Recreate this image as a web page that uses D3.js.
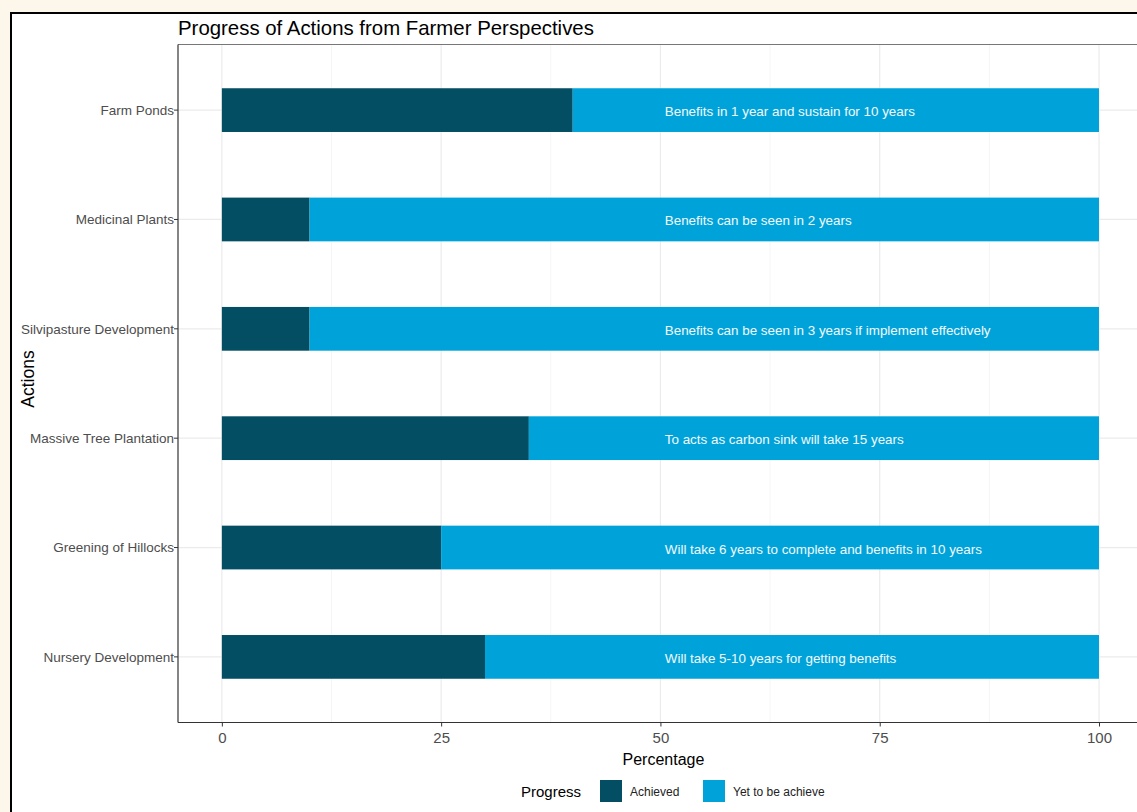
<!DOCTYPE html>
<html>
<head>
<meta charset="utf-8">
<script src="https://cdn.jsdelivr.net/npm/d3@7"></script>
<style>
  html, body { margin: 0; padding: 0; background: #fdf6ea; }
  svg { display: block; font-family: "Liberation Sans", Arial, sans-serif; }
</style>
</head>
<body>
<div class="chart"></div>
<script>
// data
var categories = ["Farm Ponds", "Medicinal Plants", "Silvipasture Development",
                  "Massive Tree Plantation", "Greening of Hillocks", "Nursery Development"];
var achieved = [40, 10, 10, 35, 25, 30];
var yetToAchieve = [60, 90, 90, 65, 75, 70];
var notes = ["Benefits in 1 year and sustain for 10 years",
             "Benefits can be seen in 2 years",
             "Benefits can be seen in 3 years if implement effectively",
             "To acts as carbon sink will take 15 years",
             "Will take 6 years to complete and benefits in 10 years",
             "Will take 5-10 years for getting benefits"];
var noteX = 50.5;
var xTicks = [0, 25, 50, 75, 100];
var xMinor = [12.5, 37.5, 62.5, 87.5];
var legendKeys = ["Achieved", "Yet to be achieve"];

var width = 1137, height = 812;
var darkColor = "#034e63", lightColor = "#00a3d9";

var svg = d3.select(".chart").append("svg")
    .attr("width", width)
    .attr("height", height);

// outer frame
svg.append("rect")
    .attr("x", 11).attr("y", 13)
    .attr("width", width).attr("height", height)
    .style("fill", "white")
    .style("stroke", "black")
    .style("stroke-width", 2);

var panel = {left: 178, top: 44.5, bottom: 722.5};

var x = d3.scaleLinear()
    .domain([-5, 105])
    .range([panel.left, 1142.85]);

var y = d3.scalePoint()
    .domain(categories)
    .range([panel.top, panel.bottom])
    .padding(0.6);

var barH = y.step() * 0.4;

var grid = svg.append("g").attr("class", "grid");

grid.selectAll(".minor")
    .data(xMinor)
    .enter().append("line")
    .attr("x1", function(d) { return x(d); })
    .attr("x2", function(d) { return x(d); })
    .attr("y1", panel.top).attr("y2", panel.bottom)
    .style("stroke", "#f2f2f2")
    .style("stroke-width", 0.8);

grid.selectAll(".major")
    .data(xTicks)
    .enter().append("line")
    .attr("x1", function(d) { return x(d); })
    .attr("x2", function(d) { return x(d); })
    .attr("y1", panel.top).attr("y2", panel.bottom)
    .style("stroke", "#ebebeb")
    .style("stroke-width", 1.2);

grid.selectAll(".hline")
    .data(categories)
    .enter().append("line")
    .attr("x1", panel.left).attr("x2", width)
    .attr("y1", function(d) { return y(d); })
    .attr("y2", function(d) { return y(d); })
    .style("stroke", "#ebebeb")
    .style("stroke-width", 1.2);

// stacked bars
var rows = svg.selectAll(".row")
    .data(categories)
    .enter().append("g")
    .attr("class", "row");

rows.append("rect")
    .attr("x", x(0))
    .attr("y", function(d) { return y(d) - barH / 2; })
    .attr("width", function(d, i) { return x(achieved[i]) - x(0); })
    .attr("height", barH)
    .style("fill", darkColor);

rows.append("rect")
    .attr("x", function(d, i) { return x(achieved[i]); })
    .attr("y", function(d) { return y(d) - barH / 2; })
    .attr("width", function(d, i) { return x(achieved[i] + yetToAchieve[i]) - x(achieved[i]); })
    .attr("height", barH)
    .style("fill", lightColor);

rows.append("text")
    .attr("x", x(noteX))
    .attr("y", function(d) { return y(d); })
    .attr("dy", "0.45em")
    .style("fill", "#f2f9fc")
    .style("font-size", "13.4px")
    .text(function(d, i) { return notes[i]; });

// axes lines
svg.append("line")
    .attr("x1", panel.left).attr("x2", width)
    .attr("y1", panel.top).attr("y2", panel.top)
    .style("stroke", "#777").style("stroke-width", 1);
svg.append("line")
    .attr("x1", panel.left).attr("x2", panel.left)
    .attr("y1", panel.top).attr("y2", panel.bottom)
    .style("stroke", "#333").style("stroke-width", 1.2);

var xAxis = svg.append("g")
    .attr("transform", "translate(0," + panel.bottom + ")")
    .call(d3.axisBottom(x).tickValues(xTicks).tickSize(4).tickPadding(6).tickSizeOuter(0));
xAxis.select(".domain")
    .attr("d", "M" + panel.left + ",0H" + width)
    .style("stroke", "#333").style("stroke-width", 1.2);
xAxis.selectAll(".tick line").style("stroke", "#333");
xAxis.selectAll(".tick text")
    .style("fill", "#4d4d4d")
    .style("font-size", "15px")
    .style("font-family", "Liberation Sans, Arial, sans-serif");

// y labels
var yLab = svg.append("g");
yLab.selectAll("line")
    .data(categories)
    .enter().append("line")
    .attr("x1", panel.left - 4).attr("x2", panel.left)
    .attr("y1", function(d) { return y(d); })
    .attr("y2", function(d) { return y(d); })
    .style("stroke", "#333");
yLab.selectAll("text")
    .data(categories)
    .enter().append("text")
    .attr("x", 174)
    .attr("y", function(d) { return y(d); })
    .attr("dy", "0.35em")
    .attr("text-anchor", "end")
    .style("fill", "#4d4d4d")
    .style("font-size", "13.5px")
    .text(function(d) { return d; });

// titles
svg.append("text")
    .attr("x", panel.left).attr("y", 35)
    .style("font-size", "20.4px")
    .style("fill", "black")
    .text("Progress of Actions from Farmer Perspectives");

svg.append("text")
    .attr("x", x(50) + 3).attr("y", 765)
    .attr("text-anchor", "middle")
    .style("font-size", "16px")
    .text("Percentage");

svg.append("text")
    .attr("transform", "translate(34,379) rotate(-90)")
    .attr("text-anchor", "middle")
    .style("font-size", "17.5px")
    .text("Actions");

// legend
var legend = svg.append("g");
legend.append("text")
    .attr("x", 521).attr("y", 797)
    .style("font-size", "15px")
    .text("Progress");

var legendX = d3.scaleOrdinal().domain(legendKeys).range([600, 703]);
var legendColor = d3.scaleOrdinal().domain(legendKeys).range([darkColor, lightColor]);

var item = legend.selectAll(".item")
    .data(legendKeys)
    .enter().append("g")
    .attr("transform", function(d) { return "translate(" + legendX(d) + ",780)"; });
item.append("rect")
    .attr("width", 22).attr("height", 22)
    .style("fill", function(d) { return legendColor(d); });
item.append("text")
    .attr("x", 30).attr("y", 16)
    .style("font-size", "12px")
    .style("fill", "#222")
    .text(function(d) { return d; });
</script>
</body>
</html>
